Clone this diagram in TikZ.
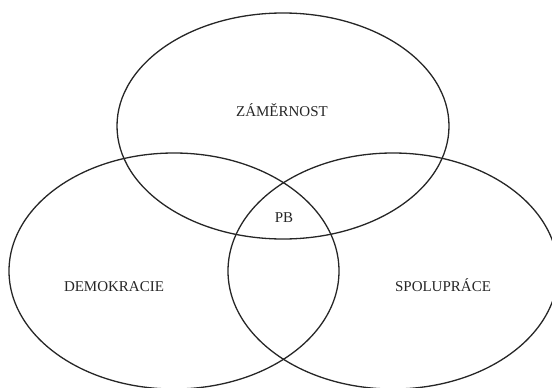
\documentclass[tikz,border=0pt]{standalone}
\usepackage{fontspec}
\setmainfont{Liberation Serif}
\usetikzlibrary{shapes.geometric}
\tikzset{
  setring/.style={draw=black!85, line width=1.3pt, ellipse, inner sep=0pt, minimum width=332pt, minimum height=236pt},
  lab/.style={font=\fontsize{15}{17}\selectfont, text=black!85, inner sep=0pt}
}
\begin{document}
\begin{tikzpicture}[x=1pt,y=-1pt]
\useasboundingbox (0,0) rectangle (552,388);
\clip (0,0) rectangle (552,388);
\node[setring, minimum height=226pt] (zam) at (283,126) {};
\node[setring, minimum width=330pt] (dem) at (174,271) {};
\node[setring, minimum width=330pt] (spo) at (393,271) {};
\node[lab] (tz) at (282,110) {ZÁMĚRNOST};
\node[lab] (tpb) at (284,218) {PB};
\node[lab] (td) at (114,287) {DEMOKRACIE};
\node[lab] (ts) at (443,285) {SPOLUPRÁCE};
\end{tikzpicture}
\end{document}
